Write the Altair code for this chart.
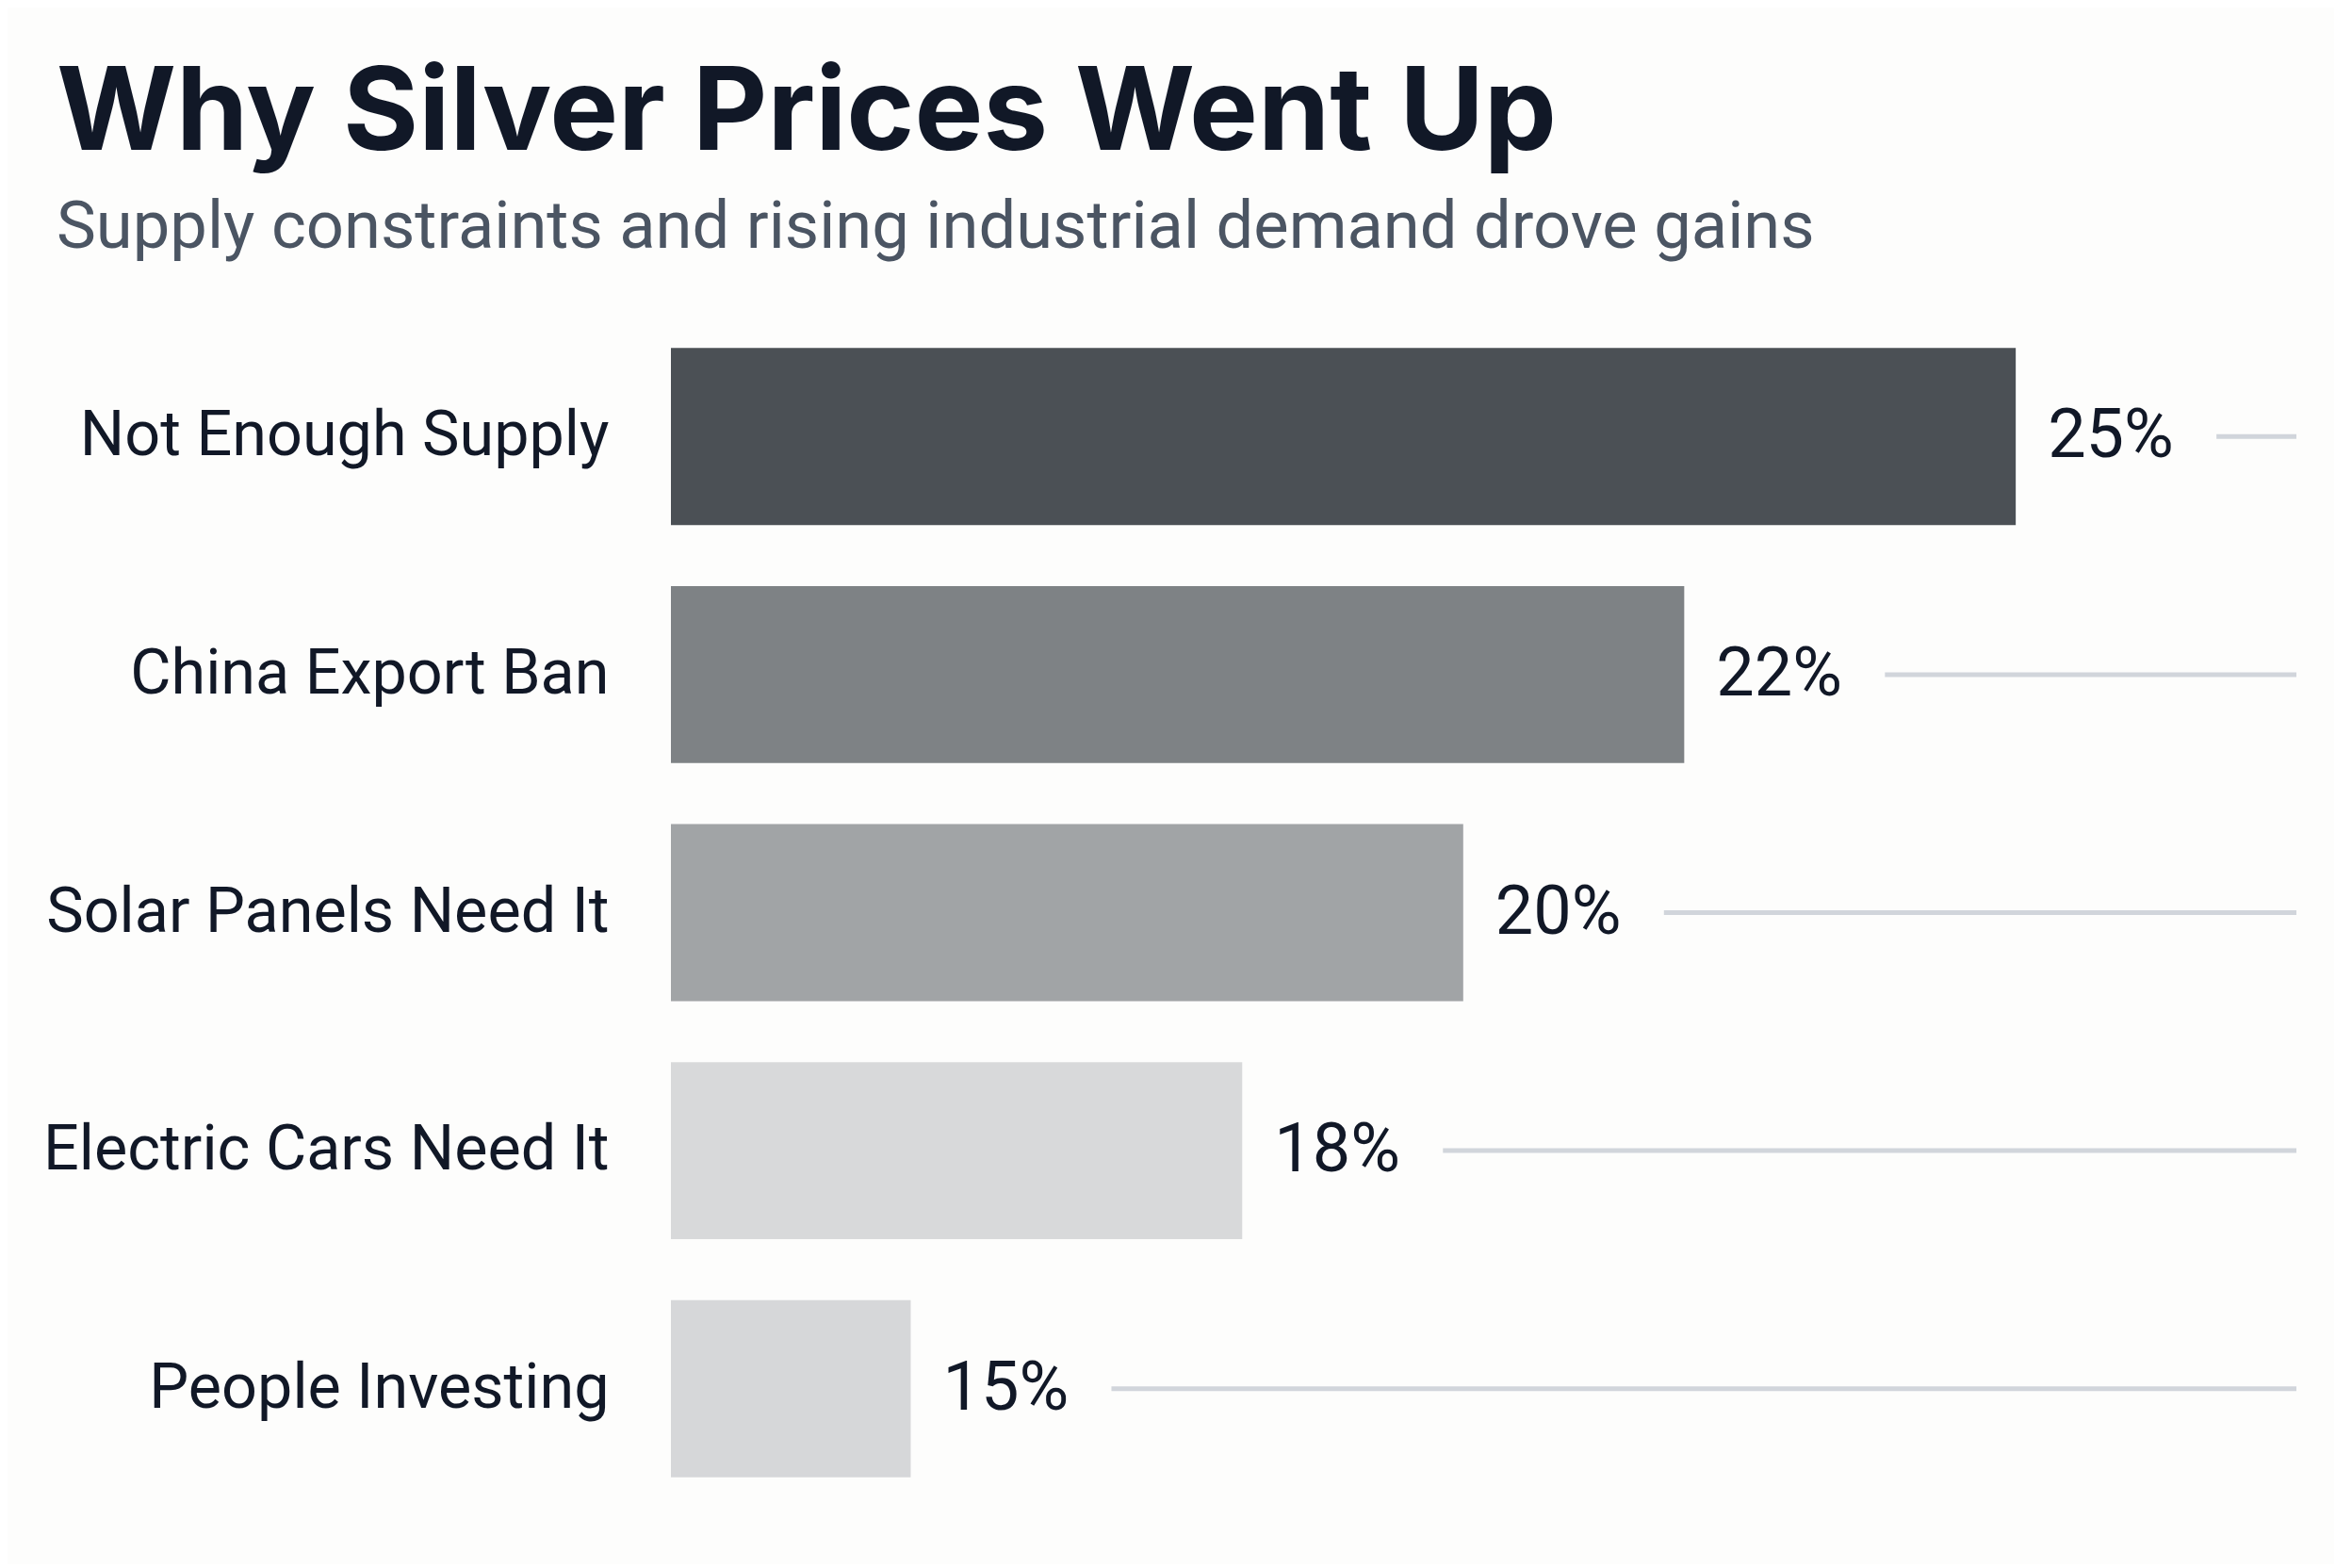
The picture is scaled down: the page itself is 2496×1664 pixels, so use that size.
import altair as alt
import pandas as pd

categories = ["Not Enough Supply", "China Export Ban", "Solar Panels Need It",
              "Electric Cars Need It", "People Investing"]
values = [25, 22, 20, 18, 15]
bar_colors = ["#4b5055", "#7e8285", "#a1a4a6", "#d8d9da", "#d6d7d9"]
value_labels = [f"{v}%" for v in values]

X_MIN, X_MAX = 12.83, 27.54

df = pd.DataFrame({
    "category": categories,
    "value": values,
    "label": value_labels,
    "color": bar_colors,
})

y_enc = alt.Y("category:N", sort=categories,
              scale=alt.Scale(paddingInner=0.256, paddingOuter=0.128),
              axis=alt.Axis(title=None, domain=False, ticks=False, labelFont="Roboto",
                            labelFontSize=66.5, labelColor="#111827", labelPadding=66,
                            labelLimit=0, labelAlign="right"))
x_scale = alt.Scale(domain=[X_MIN, X_MAX], zero=False, nice=False)

base = alt.Chart(df)

track = base.mark_rule(color="#d1d5db", strokeWidth=5, xOffset=213).encode(
    y=y_enc,
    x=alt.X("value:Q", scale=x_scale, axis=None),
    x2=alt.datum(X_MAX),
)

bars = base.mark_bar().encode(
    y=y_enc,
    x=alt.X("value:Q", scale=x_scale, axis=None),
    x2=alt.datum(X_MIN),
    color=alt.Color("color:N", scale=None, legend=None),
)

labels = base.mark_text(align="left", baseline="middle", dx=34, font="Roboto",
                        fontSize=72, color="#111827").encode(
    y=y_enc,
    x=alt.X("value:Q", scale=x_scale, axis=None),
    text="label:N",
)

chart = alt.layer(track, bars, labels).properties(
    width=1725,
    height=1263,
    autosize=alt.AutoSizeParams(type="none"),
    padding={"left": 704, "top": 329, "right": 40, "bottom": 60},
    background="#fdfdfc",
    title=alt.TitleParams(
        text="Why Silver Prices Went Up",
        subtitle="Supply constraints and rising industrial demand drove gains",
        anchor="start",
        frame="group",
        dx=-652,
        offset=59,
        font="Inter",
        fontSize=122.5,
        fontWeight=700,
        color="#111827",
        subtitleFont="Roboto",
        subtitleFontSize=70.5,
        subtitleColor="#4b5563",
        subtitlePadding=22,
    ),
).configure_view(stroke=None)

chart.save("out.html", embed_options={"renderer": "svg", "actions": False})
